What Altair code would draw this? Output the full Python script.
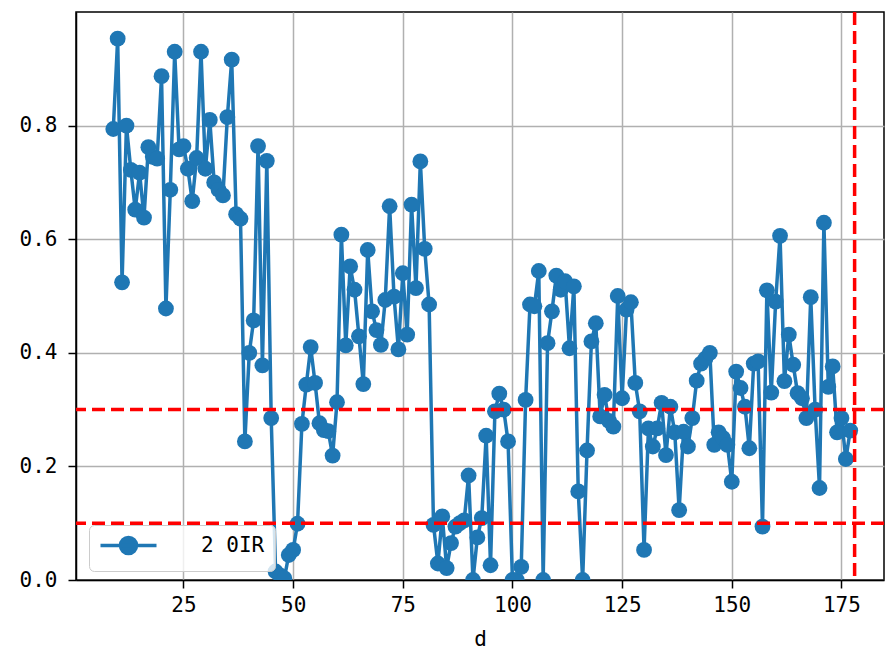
import altair as alt
import pandas as pd

# ---- data ----
days = list(range(9, 178))
values = [
    0.794, 0.953, 0.524, 0.800, 0.722, 0.652, 0.717, 0.638, 0.762, 0.745,   # 9-18
    0.742, 0.887, 0.478, 0.687, 0.930, 0.758, 0.764, 0.724, 0.667, 0.743,   # 19-28
    0.930, 0.724, 0.810, 0.700, 0.687, 0.677, 0.815, 0.916, 0.644, 0.636,   # 29-38
    0.244, 0.400, 0.457, 0.764, 0.378, 0.738, 0.285, 0.015, 0.008, 0.003,   # 39-48
    0.044, 0.053, 0.099, 0.275, 0.344, 0.410, 0.347, 0.276, 0.264, 0.262,   # 49-58
    0.219, 0.313, 0.608, 0.413, 0.552, 0.511, 0.429, 0.345, 0.581, 0.473,   # 59-68
    0.440, 0.414, 0.493, 0.658, 0.499, 0.406, 0.540, 0.432, 0.661, 0.514,   # 69-78
    0.737, 0.583, 0.485, 0.097, 0.029, 0.112, 0.021, 0.065, 0.094, 0.100,   # 79-88
    0.105, 0.184, 0.000, 0.075, 0.109, 0.254, 0.026, 0.297, 0.328, 0.300,   # 89-98
    0.244, 0.000, 0.000, 0.023, 0.317, 0.485, 0.482, 0.544, 0.000, 0.417,   # 99-108
    0.473, 0.536, 0.511, 0.526, 0.408, 0.517, 0.156, 0.000, 0.228, 0.420,   # 109-118
    0.452, 0.288, 0.326, 0.280, 0.270, 0.500, 0.320, 0.476, 0.489, 0.347,   # 119-128
    0.297, 0.053, 0.267, 0.235, 0.267, 0.312, 0.220, 0.305, 0.260, 0.123,   # 129-138
    0.261, 0.235, 0.285, 0.351, 0.381, 0.390, 0.400, 0.238, 0.260, 0.250,   # 139-148
    0.238, 0.173, 0.367, 0.338, 0.305, 0.232, 0.381, 0.385, 0.094, 0.510,   # 149-158
    0.330, 0.490, 0.606, 0.350, 0.432, 0.379, 0.329, 0.320, 0.285, 0.498,   # 159-168
    0.300, 0.162, 0.629, 0.340, 0.376, 0.260, 0.285, 0.213, 0.263,          # 169-177
]
series_name = "2 0IR"
h_lines = [0.1, 0.3]
v_lines = [178]
x_ticks = [25, 50, 75, 100, 125, 150, 175]
y_ticks = [0.0, 0.2, 0.4, 0.6, 0.8]

df = pd.DataFrame({"d": days, "v": values, "s": series_name})
hdf = pd.DataFrame({"v": h_lines})
vdf = pd.DataFrame({"d": v_lines})

BLUE = "#1f77b4"
FONT = "DejaVu Sans Mono"

xscale = alt.Scale(domain=[0.5, 184.7], nice=False, zero=False)
yscale = alt.Scale(domain=[0.0, 1.0], nice=False, zero=False)

xenc = alt.X("d:Q", title="d", scale=xscale,
             axis=alt.Axis(values=x_ticks, format="d", grid=True))
yenc = alt.Y("v:Q", title=None, scale=yscale,
             axis=alt.Axis(values=y_ticks, format=".1f", grid=True))

legend_symbol = "M-3.5,0L3.5,0M1,0A1,1,0,1,1,-1,0A1,1,0,1,1,1,0Z"

color = alt.Color(
    "s:N",
    scale=alt.Scale(range=[BLUE]),
    legend=alt.Legend(
        title=None, orient="none", legendX=13, legendY=513,
        symbolType=legend_symbol, symbolSize=256, symbolStrokeWidth=3.5,
        symbolFillColor=BLUE, symbolStrokeColor=BLUE, symbolOpacity=1,
        symbolOffset=19, labelOffset=62,
        labelFont=FONT, labelFontSize=21, labelColor="black",
        padding=10, strokeColor="#cccccc", cornerRadius=5,
        fillColor="rgba(255,255,255,0.8)",
    ),
)

line = alt.Chart(df).mark_line(strokeWidth=3.5, clip=True).encode(x=xenc, y=yenc, color=color)
pts = alt.Chart(df).mark_circle(size=250, opacity=1, clip=True).encode(x=xenc, y=yenc, color=color)

hr = alt.Chart(hdf).mark_rule(color="red", strokeWidth=3.5, strokeDash=[13, 6]).encode(
    y=alt.Y("v:Q", scale=yscale, title=None))
vr = alt.Chart(vdf).mark_rule(color="red", strokeWidth=3.5, strokeDash=[13, 6]).encode(
    x=alt.X("d:Q", scale=xscale, title="d"))

chart = (
    alt.layer(line, pts, hr, vr)
    .properties(
        width=808, height=568,
        autosize=alt.AutoSizeParams(type="none"),
        padding={"left": 76, "top": 12, "right": 2, "bottom": 75},
        background="white",
    )
    .configure_view(stroke="black", strokeWidth=1.5)
    .configure_axis(
        labelFont=FONT, labelFontSize=21, labelColor="black",
        titleFont=FONT, titleFontSize=21, titleFontWeight="normal", titleColor="black",
        domainColor="black", domainWidth=1.5,
        tickColor="black", tickWidth=1.5, tickSize=8,
        gridColor="#b0b0b0", gridWidth=1.5, gridOpacity=1,
        labelPadding=6,
    )
    .configure_axisY(labelPadding=11)
    .configure_axisX(titlePadding=13)
)

chart.save("out.html", embed_options={"renderer": "svg", "actions": False})
